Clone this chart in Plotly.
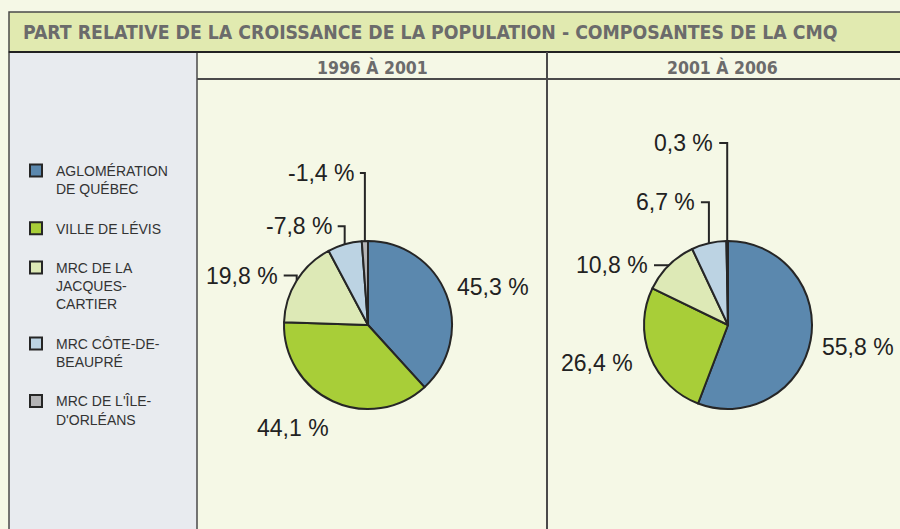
import math
import plotly.graph_objects as go

# ---------------- data ----------------
categories = [
    "AGLOMÉRATION<br>DE QUÉBEC",
    "VILLE DE LÉVIS",
    "MRC DE LA<br>JACQUES-<br>CARTIER",
    "MRC CÔTE-DE-<br>BEAUPRÉ",
    "MRC DE L'ÎLE-<br>D'ORLÉANS",
]
period_labels = ["1996 À 2001", "2001 À 2006"]
values_1996_2001 = [45.3, 44.1, 19.8, -7.8, -1.4]
values_2001_2006 = [55.8, 26.4, 10.8, 6.7, 0.3]
title_text = "PART RELATIVE DE LA CROISSANCE DE LA POPULATION - COMPOSANTES DE LA CMQ"

# ---------------- style ----------------
W, H = 900, 529
colors = ["#5b88ae", "#a8ce38", "#dde9b6", "#bcd3e3", "#b4b4b6"]
edge = "#262626"
bg = "#f5f8e6"
title_bg = "#e1eab0"
panel_bg = "#e8ebef"
grid = "#4a4a4a"
pie_centers = [(368, 325), (728, 325)]
pie_radius = 84
header_x = [372, 722]
# label offsets from the rim point (px): (dx, dy, xanchor, leader)
label_styles = [
    [(9, -8, "left", False), (-40, 27, "center", False), (-17, -5, "right", True),
     (-11, -18, "right", True), (-9, -68, "right", True)],
    [(9, 7, "left", False), (-15, 7, "right", False), (-19, 0, "right", True),
     (-12, -41, "right", True), (-12, -98, "right", True)],
]
label_font = dict(family="Liberation Sans, Arial, sans-serif", size=23, color="#222222")
narrow = "DejaVu Sans Condensed, Liberation Sans Narrow, Arial Narrow, sans-serif"


def px(x):
    return x / W


def py(y):
    return 1 - y / H


def fmt(v):
    return f"{v:.1f}".replace(".", ",") + " %"


fig = go.Figure()
shapes = []
annotations = []

# frame / panels
shapes.append(dict(type="rect", xref="paper", yref="paper", x0=px(9), x1=px(905), y0=py(12), y1=py(52),
                   fillcolor=title_bg, line=dict(color=grid, width=1.5), layer="below"))
shapes.append(dict(type="rect", xref="paper", yref="paper", x0=px(9), x1=px(197), y0=py(52), y1=py(535),
                   fillcolor=panel_bg, line=dict(color=grid, width=1.5), layer="below"))
shapes.append(dict(type="line", xref="paper", yref="paper", x0=px(9), x1=px(905), y0=py(52), y1=py(52),
                   line=dict(color="#222222", width=2)))
shapes.append(dict(type="line", xref="paper", yref="paper", x0=px(197), x1=px(905), y0=py(79), y1=py(79),
                   line=dict(color=grid, width=2)))
shapes.append(dict(type="line", xref="paper", yref="paper", x0=px(547), x1=px(547), y0=py(52), y1=py(535),
                   line=dict(color=grid, width=2)))

annotations.append(dict(text=f"<b>{title_text}</b>", xref="paper", yref="paper", x=px(21), y=py(32),
                        xanchor="left", yanchor="middle", showarrow=False,
                        font=dict(family=narrow, size=19.3, color="#6b6b6b")))
for hx, lab in zip(header_x, period_labels):
    annotations.append(dict(text=f"<b>{lab}</b>", xref="paper", yref="paper", x=px(hx), y=py(67),
                            xanchor="center", yanchor="middle", showarrow=False,
                            font=dict(family=narrow, size=17.5, color="#6b6b6b")))

all_values = [values_1996_2001, values_2001_2006]
for k, vals in enumerate(all_values):
    cx, cy = pie_centers[k]
    r = pie_radius
    sizes = [abs(v) for v in vals]
    legend_names = [c + "<br> " for c in categories]
    fig.add_trace(go.Pie(
        labels=legend_names, values=sizes, sort=False, direction="clockwise", rotation=0,
        marker=dict(colors=colors, line=dict(color=edge, width=2)),
        textinfo="none", hoverinfo="skip", showlegend=(k == 0),
        domain=dict(x=[px(cx - r), px(cx + r)], y=[py(cy + r), py(cy - r)]),
    ))
    total = sum(sizes)
    cum = 0.0
    for i, (v, s) in enumerate(zip(vals, sizes)):
        mid = (cum + s / 2) / total * 2 * math.pi
        cum += s
        rx = cx + r * math.sin(mid)
        ry = cy - r * math.cos(mid)
        dx, dy, xa, leader = label_styles[k][i]
        if leader:
            ly = ry + dy
            shapes.append(dict(type="path", xref="paper", yref="paper",
                               path=f"M {px(rx)} {py(ry)} L {px(rx)} {py(ly)} L {px(rx + dx + 4)} {py(ly)}",
                               line=dict(color=edge, width=2)))
            annotations.append(dict(text=fmt(v), xref="paper", yref="paper", x=px(rx + dx), y=py(ly),
                                    xanchor="right", yanchor="middle", showarrow=False, font=label_font))
        else:
            annotations.append(dict(text=fmt(v), xref="paper", yref="paper", x=px(rx + dx), y=py(ry + dy),
                                    xanchor=xa, yanchor="middle", showarrow=False, font=label_font))

fig.update_layout(
    width=W, height=H, margin=dict(l=0, r=0, t=0, b=0),
    paper_bgcolor=bg, plot_bgcolor=bg,
    shapes=shapes, annotations=annotations,
    legend=dict(x=px(16), y=py(155), xanchor="left", yanchor="top", valign="top",
                bgcolor="rgba(0,0,0,0)", traceorder="normal",
                font=dict(family="Liberation Sans, Arial, sans-serif", size=14, color="#333333")),
)
fig.write_html("out.html", config={"displayModeBar": False},
               post_script="document.body.style.margin='0';document.body.style.background='" + bg + "';")
